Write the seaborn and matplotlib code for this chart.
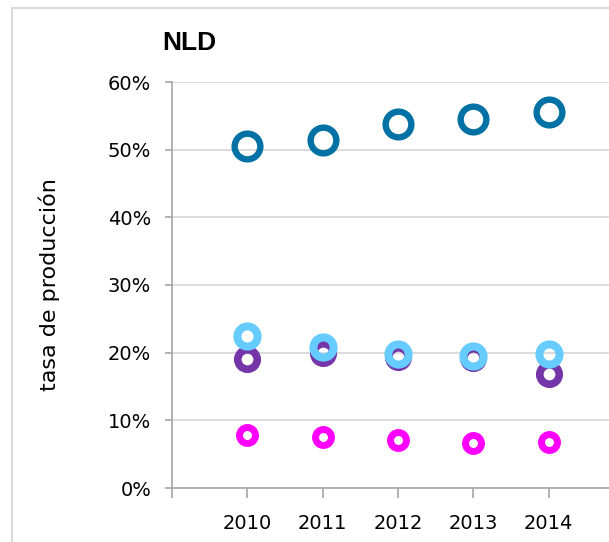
import matplotlib
matplotlib.use("Agg")
import matplotlib.pyplot as plt
import matplotlib.patches as mpatches
from matplotlib.ticker import PercentFormatter
import seaborn as sns
import pandas as pd

years = [2010, 2011, 2012, 2013, 2014]
dark_blue = [50.5, 51.5, 53.8, 54.5, 55.6]
purple = [19.1, 19.9, 19.3, 19.2, 16.9]
light_blue = [22.4, 20.9, 19.8, 19.5, 19.8]
magenta = [7.8, 7.6, 7.1, 6.6, 6.8]

series = [
    ("dark_blue", dark_blue, "#0071A4", 18.5, 4.6),
    ("purple", purple, "#7435A8", 14, 5.5),
    ("light_blue", light_blue, "#66CCFF", 14.5, 5.8),
    ("magenta", magenta, "#FF00FF", 11.5, 5.0),
]

sns.set_theme(style="white")
plt.rcParams['font.family'] = ['DejaVu Sans']
plt.rcParams['text.color'] = 'black'
plt.rcParams['axes.labelcolor'] = 'black'
plt.rcParams['xtick.color'] = 'black'
plt.rcParams['ytick.color'] = 'black'

fig = plt.figure(figsize=(6.09, 5.42), dpi=100)
ax = fig.add_axes([172/609, 54/542, (624-172)/609, (488-82)/542])

for name, vals, col, ms, mew in series:
    df = pd.DataFrame({"year": years, "value": vals})
    sns.lineplot(data=df, x="year", y="value", ax=ax, color=col, marker="o",
                 linestyle="none", markersize=ms, markeredgewidth=mew,
                 markerfacecolor="none", markeredgecolor=col, zorder=3)

ax.set_xlim(2009, 2015)
ax.set_ylim(0, 60)
ax.set_yticks([0, 10, 20, 30, 40, 50, 60])
ax.yaxis.set_major_formatter(PercentFormatter(decimals=0))
ax.set_xticks([2009] + years)
ax.set_xticklabels([""] + [str(y) for y in years])
ax.grid(axis="y", color="#D9D9D9", linewidth=1.3)
ax.set_axisbelow(True)
for s in ["top", "right"]:
    ax.spines[s].set_visible(False)
for s in ["left", "bottom"]:
    ax.spines[s].set_color("#A6A6A6")
    ax.spines[s].set_linewidth(1.2)
ax.tick_params(axis="x", direction="out", length=7, width=1.2, color="#A6A6A6",
               labelsize=14, pad=12, bottom=True, labelcolor="black")
ax.tick_params(axis="y", direction="out", length=5, width=1.2, color="#A6A6A6",
               labelsize=14, pad=10, left=True, labelcolor="black")
ax.set_xlabel("")
ax.set_ylabel("tasa de producción", fontsize=16, color="black")
ax.yaxis.set_label_coords((60-172)/452, 0.5)
fig.text(162/609, 1 - 43/542, "NLD", fontsize=19, fontweight="bold", ha="left", va="center",
         family="Liberation Sans", color="black")

rect = mpatches.Rectangle((12/609, -0.1), 1.2, 1 - 8/542 + 0.1, transform=fig.transFigure,
                          fill=False, edgecolor="#D9D9D9", linewidth=1.5)
fig.patches.append(rect)

fig.savefig("out.png", dpi=100)
